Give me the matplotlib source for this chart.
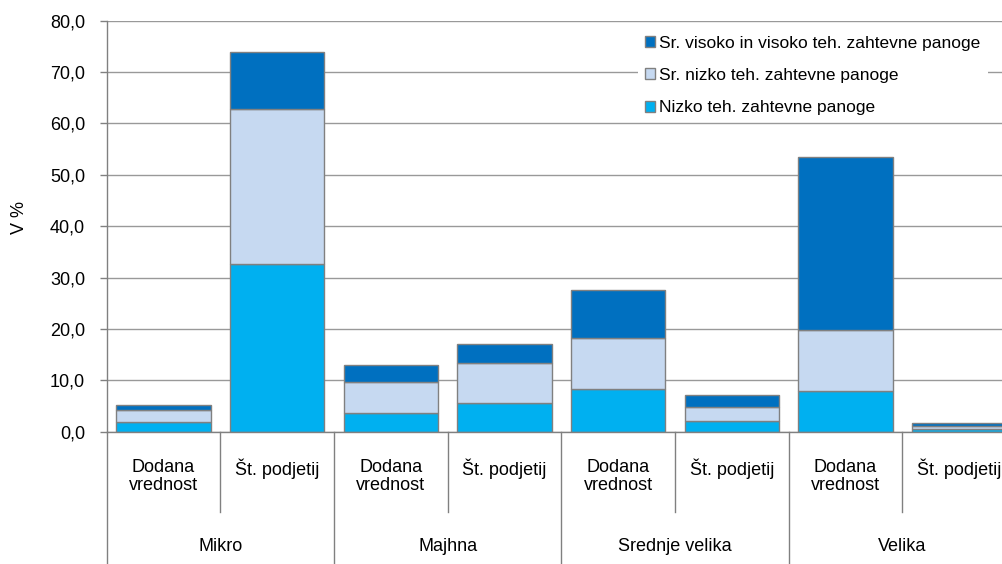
import matplotlib
matplotlib.use("Agg")
import matplotlib.pyplot as plt
from matplotlib import ticker
from matplotlib.patches import Patch
import numpy as np

plt.rcParams['font.family'] = ['Liberation Sans', 'DejaVu Sans']

# groups and sub-categories
groups = ["Mikro", "Majhna", "Srednje velika", "Velika"]
subcats = ["Dodana\nvrednost", "Št. podjetij"]

# series values (V %), order: Mikro DV, Mikro ŠP, Majhna DV, Majhna ŠP, ...
nizko = [1.8, 32.6, 3.7, 5.6, 8.3, 2.1, 8.0, 0.5]
sr_nizko = [2.4, 30.2, 5.9, 7.7, 10.0, 2.8, 11.8, 0.6]
sr_visoko = [1.0, 11.1, 3.4, 3.8, 9.3, 2.2, 33.6, 0.5]

series_names = ["Nizko teh. zahtevne panoge",
                "Sr. nizko teh. zahtevne panoge",
                "Sr. visoko in visoko teh. zahtevne panoge"]
series_colors = ["#00B0F0", "#C6D9F1", "#0070C0"]

W, H = 1003, 564
fig = plt.figure(figsize=(W / 100, H / 100), dpi=100, facecolor='w')
ax = fig.add_axes([106.7 / W, 1 - 431.7 / H, (1016 - 106.7) / W, 411 / H])

x = np.arange(len(nizko))
bottom = np.zeros(len(nizko))
for vals, col in zip([nizko, sr_nizko, sr_visoko], series_colors):
    ax.bar(x, vals, width=0.83, bottom=bottom, color=col,
           edgecolor='#808080', linewidth=1.0, zorder=3)
    bottom += np.array(vals)

ax.set_xlim(-0.5, len(nizko) - 0.5)
ax.set_ylim(0, 80)
ax.yaxis.set_major_locator(ticker.MultipleLocator(10))
ax.yaxis.set_major_formatter(ticker.FuncFormatter(lambda v, p: ("%.1f" % v).replace('.', ',')))
ax.grid(axis='y', color='#999999', linewidth=1.0, zorder=0)
for s in ['top', 'right']:
    ax.spines[s].set_visible(False)
for s in ['left', 'bottom']:
    ax.spines[s].set_color('#808080')
    ax.spines[s].set_linewidth(1.0)
    ax.spines[s].set_zorder(4)
ax.tick_params(axis='y', length=5, width=1.0, color='#808080', pad=10.5,
               labelsize=13, labelcolor='black')
ax.set_xticks([])

fig.text(20 / W, 1 - 217 / H, "V %", rotation=90, ha='center', va='center', fontsize=13)

# multi-level category axis
tr = ax.get_xaxis_transform()
for i in range(len(nizko) + 1):
    y_end = -0.322 if i % 2 == 0 else -0.195
    ax.plot([i - 0.5, i - 0.5], [0, y_end], transform=tr, color='#808080',
            linewidth=1.0, clip_on=False)
for i in range(len(nizko)):
    ax.text(i, -0.066, subcats[i % 2], transform=tr, ha='center', va='top',
            fontsize=13, linespacing=1.12)
for g, name in enumerate(groups):
    ax.text(2 * g + 0.5, -0.280, name, transform=tr, ha='center', va='center',
            fontsize=13)

handles = [Patch(facecolor=c, edgecolor='#808080', linewidth=1.0)
           for c in series_colors][::-1]
leg = fig.legend(handles, series_names[::-1], loc='upper left',
                 bbox_to_anchor=(629 / W, 1 - 20 / H), fontsize=12.5,
                 frameon=True, fancybox=False, framealpha=1.0,
                 handlelength=0.6, handleheight=0.6, handletextpad=0.25,
                 labelspacing=1.0, borderpad=0.4)
leg.get_frame().set_edgecolor('none')
leg.get_frame().set_facecolor('white')

fig.savefig("out.png", dpi=100, facecolor='w')
